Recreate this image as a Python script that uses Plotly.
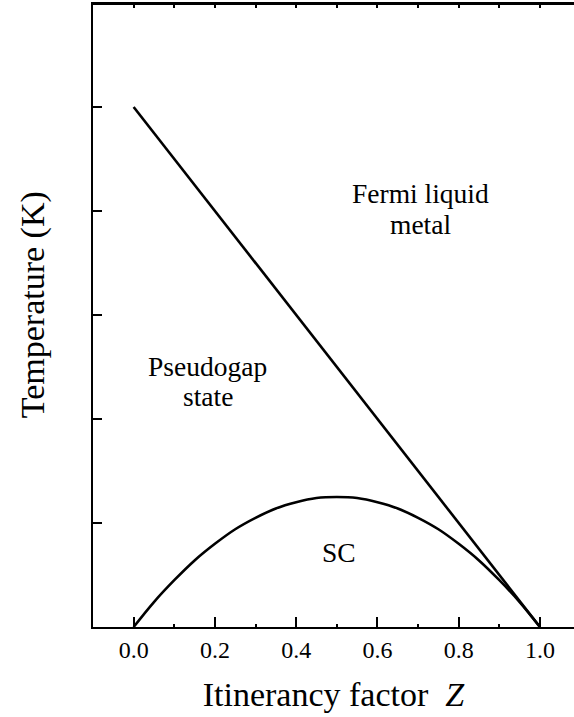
import plotly.graph_objects as go

# Pseudogap boundary T*(Z)
line_z = [0.0, 1.0]
line_T = [5.0, 0.0]

# Superconducting dome Tc(Z)
dome_z = [0.0, 0.05, 0.1, 0.15, 0.2, 0.25, 0.3, 0.35, 0.4, 0.45, 0.5,
          0.55, 0.6, 0.65, 0.7, 0.75, 0.8, 0.85, 0.9, 0.95, 1.0]
dome_T = [0.0, 0.24, 0.45, 0.64, 0.80, 0.94, 1.05, 1.14, 1.20, 1.24, 1.25,
          1.24, 1.20, 1.14, 1.05, 0.94, 0.80, 0.64, 0.45, 0.24, 0.0]

x_ticks = [0.0, 0.2, 0.4, 0.6, 0.8, 1.0]
x_tick_labels = ["0.0", "0.2", "0.4", "0.6", "0.8", "1.0"]
y_ticks = [1, 2, 3, 4, 5]

# region labels, one entry per text line
label_lines = ["Fermi liquid", "metal", "Pseudogap", "state", "SC"]

FONT = "Liberation Serif"

fig = go.Figure()
fig.add_trace(go.Scatter(x=line_z, y=line_T, mode="lines",
                         line=dict(color="black", width=2.6),
                         showlegend=False, hoverinfo="skip"))
fig.add_trace(go.Scatter(x=dome_z, y=dome_T, mode="lines",
                         line=dict(color="black", width=2.6, shape="spline"),
                         showlegend=False, hoverinfo="skip"))
# helper trace so that the top axis is drawn
fig.add_trace(go.Scatter(x=[0.5], y=[0], xaxis="x2", mode="lines",
                         showlegend=False, hoverinfo="skip"))

xr = [-0.1, 1.0837]
fig.update_layout(
    width=574, height=717,
    margin=dict(l=93, r=0, t=5, b=90),
    paper_bgcolor="white", plot_bgcolor="white",
    font=dict(family=FONT, color="black"),
    xaxis=dict(range=xr, tickvals=x_ticks, ticktext=x_tick_labels,
               ticks="inside", ticklen=10, tickwidth=2, tickcolor="black",
               minor=dict(tickvals=[0.1, 0.3, 0.5, 0.7, 0.9], ticks="inside",
                          ticklen=3, tickwidth=1.5, tickcolor="black"),
               showline=True, linewidth=2, linecolor="black",
               showgrid=False, zeroline=False,
               tickfont=dict(size=24, family=FONT),
               title=dict(text="Itinerancy factor&nbsp; <i>Z</i>",
                          font=dict(size=34, family=FONT), standoff=20)),
    xaxis2=dict(range=xr, overlaying="x", side="top", dtick=0.1, tick0=0,
                ticks="inside", ticklen=3, tickwidth=1.5, tickcolor="black",
                showticklabels=False, showline=True, linewidth=2.5,
                linecolor="black", showgrid=False, zeroline=False),
    yaxis=dict(range=[0, 5.98], tickvals=y_ticks, showticklabels=False,
               ticks="inside", ticklen=9, tickwidth=2, tickcolor="black",
               showline=True, linewidth=2, linecolor="black",
               showgrid=False, zeroline=False),
)

positions = [(0.707, 4.163), (0.707, 3.865), (0.182, 2.50), (0.182, 2.212),
             (0.505, 0.72)]
for text, (x, y) in zip(label_lines, positions):
    fig.add_annotation(x=x, y=y, text=text, showarrow=False,
                       font=dict(size=27.5, family=FONT, color="black"),
                       xanchor="center", yanchor="middle")

fig.add_annotation(text="Temperature (K)", xref="paper", yref="paper",
                   x=-0.126, y=0.518, xanchor="center", yanchor="middle",
                   textangle=-90, showarrow=False,
                   font=dict(size=34, family=FONT, color="black"))

fig.write_html("out.html", config={"displayModeBar": False},
               post_script="document.body.style.margin='0px';")
